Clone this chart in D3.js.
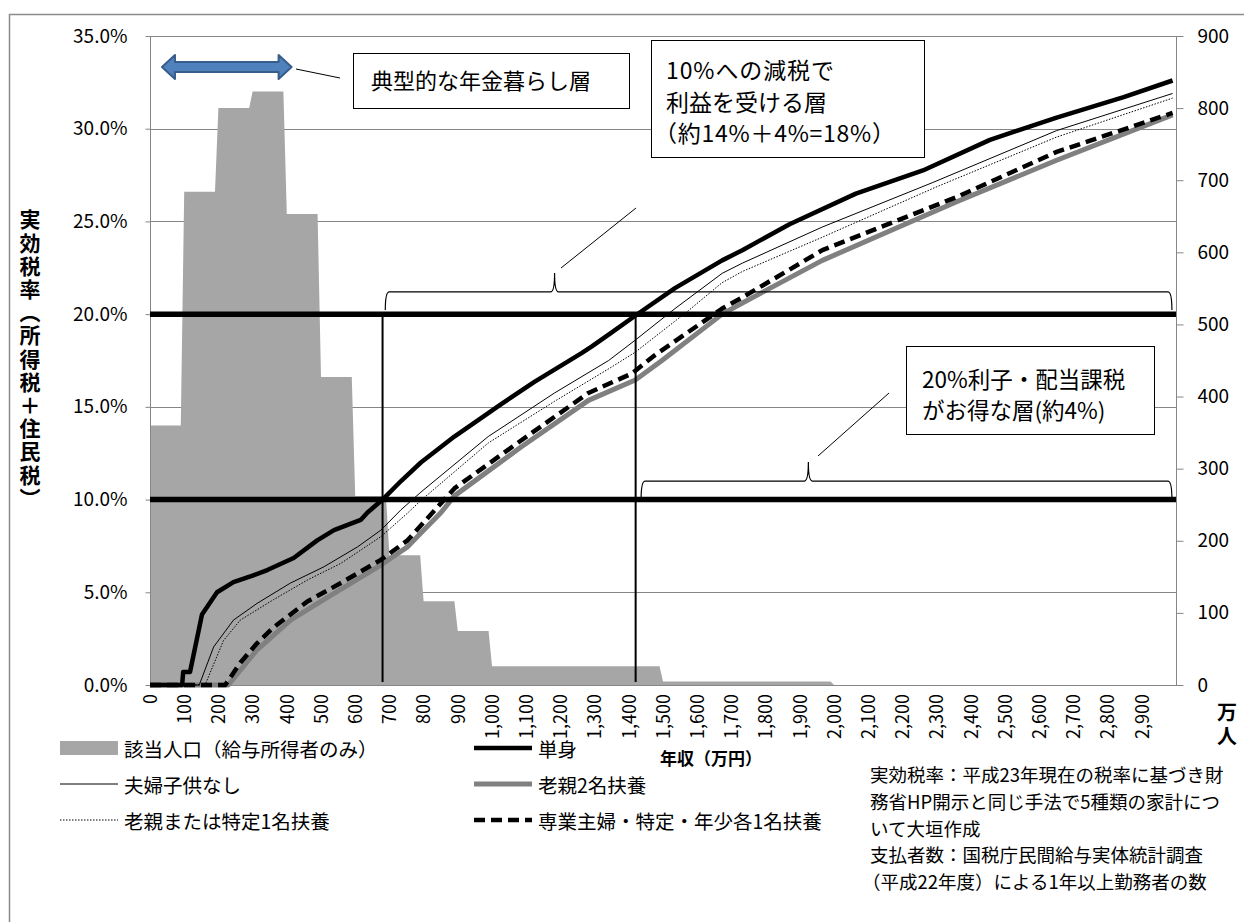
<!DOCTYPE html>
<html lang="ja">
<head>
<meta charset="utf-8">
<script src="https://cdn.jsdelivr.net/npm/d3@7"></script>
<style>
  html, body { margin: 0; padding: 0; background: #fff; }
  svg { display: block; }
  .cjk { font-family: "Noto Sans CJK JP", "Noto Sans", sans-serif; }
  .num { font-family: "Noto Sans CJK JP", "Noto Sans", sans-serif; }
  .vert { writing-mode: vertical-rl; }
</style>
</head>
<body>
<svg id="chart" width="1244" height="922"></svg>
<script>
// ---- data ---------------------------------------------------------------
// income axis (万円)
const incomeTicks = d3.range(0, 3000, 100);
const rateTicks = [0, 5, 10, 15, 20, 25, 30, 35];          // %
const popTicks = d3.range(0, 901, 100);                    // 万人

// wage earners per 10万円 income class (万人), by income band
const popBandStart = [0, 100, 200, 300, 400, 500, 600, 700, 800, 900, 1000, 1500, 2000];
const popBandEnd   = [100, 200, 300, 400, 500, 600, 700, 800, 900, 1000, 1500, 2000, 3000];
const popValues    = [360, 684, 800, 823, 653, 427, 262, 180, 116, 75, 26, 5, 0];

// effective tax rate (%) vs annual income (万円) for five household types
const rateSingle = [[0,0],[94,0],[97,0.7],[117,0.7],[152,3.8],[196,5.0],[244,5.55],[300,5.9],[343,6.2],
  [420,6.85],[489,7.8],[538,8.35],[616,8.9],[636,9.3],[680,10.0],[734,11.0],[792,12.0],[890,13.4],
  [1027,15.15],[1124,16.35],[1262,17.9],[1291,18.25],[1341,18.9],[1429,20.05],[1535,21.4],[1673,22.9],
  [1732,23.45],[1870,24.85],[2064,26.5],[2260,27.75],[2456,29.4],[2651,30.6],[2847,31.7],[2990,32.6]];
const rateCouple = [[0,0],[144,0],[186,2.05],[244,3.5],[313,4.4],[411,5.5],[508,6.37],[607,7.45],
  [675,8.35],[734,9.45],[792,10.4],[989,13.4],[1183,15.75],[1341,17.5],[1419,18.6],[1535,20.3],
  [1673,22.2],[1732,22.75],[1966,24.7],[2289,27.1],[2651,29.9],[2990,31.9]];
const rateOneDependent = [[0,0],[161,0],[215,2.4],[264,3.5],[361,4.6],[460,5.66],[558,6.56],[675,8.0],
  [753,9.27],[792,9.95],[989,13.05],[1183,15.3],[1350,17.15],[1419,17.95],[1575,20.2],[1673,21.7],
  [1732,22.3],[1966,24.15],[2298,26.85],[2651,29.55],[2990,31.65]];
const rateTwoParents = [[0,0],[229,0],[313,1.9],[411,3.5],[508,4.6],[675,6.47],[753,7.45],[792,8.2],
  [851,9.3],[890,10.2],[1086,12.85],[1282,15.35],[1419,16.45],[1497,17.5],[1673,20.0],[1732,20.6],
  [1966,22.9],[2357,26.05],[2651,28.3],[2990,30.75]];
const rateHousewife = [[0,0],[220,0],[264,1.2],[313,2.25],[361,3.1],[460,4.5],[558,5.5],[675,6.75],
  [753,7.8],[792,8.6],[841,9.6],[890,10.6],[1086,13.2],[1282,15.75],[1409,16.8],[1477,17.8],
  [1575,19.05],[1673,20.3],[1732,20.9],[1966,23.45],[2357,26.3],[2651,28.75],[2990,30.85]];

// ---- layout -------------------------------------------------------------
const svg = d3.select("#chart");
const plot = { left: 150, right: 1176, top: 36, bottom: 685 };

const x = d3.scaleLinear().domain([0, 3000]).range([plot.left, plot.right]);
const y = d3.scaleLinear().domain([0, 35]).range([plot.bottom, plot.top]);
const yPop = d3.scaleLinear().domain([0, 900]).range([plot.bottom, plot.top]);

const GRID = "#868686";

// chart frame
svg.append("rect").attr("x", 9.5).attr("y", 14.5).attr("width", 1260).attr("height", 940)
  .attr("fill", "#fff").attr("stroke", "#8c8c8c").attr("stroke-width", 1.5);

// horizontal gridlines
svg.append("g").selectAll("line").data(rateTicks.slice(1)).join("line")
  .attr("x1", plot.left).attr("x2", plot.right)
  .attr("y1", d => Math.round(y(d)) + 0.5).attr("y2", d => Math.round(y(d)) + 0.5)
  .attr("stroke", GRID).attr("stroke-width", 1);

// population area (secondary axis)
const popPts = [];
popBandStart.forEach((s, i) => {
  popPts.push([s, popValues[i]]);
  popPts.push([popBandEnd[i] - 10, popValues[i]]);
});
svg.append("path").datum(popPts)
  .attr("fill", "#a6a6a6")
  .attr("d", d3.area().x(d => x(d[0])).y0(yPop(0)).y1(d => yPop(d[1])));

// plot border / axis lines
svg.append("rect").attr("x", plot.left + 0.5).attr("y", plot.top + 0.5)
  .attr("width", plot.right - plot.left).attr("height", plot.bottom - plot.top)
  .attr("fill", "none").attr("stroke", GRID).attr("stroke-width", 1);

// left axis
const leftAxis = svg.append("g").attr("transform", `translate(${plot.left + 0.5},0)`)
  .call(d3.axisLeft(y).tickValues(rateTicks).tickSize(5).tickFormat(d => d.toFixed(1) + "%"));
leftAxis.select(".domain").remove();
leftAxis.selectAll(".tick line").attr("stroke", GRID);
leftAxis.selectAll(".tick text").attr("class", "num").attr("x", -23)
  .attr("font-size", 19).attr("fill", "#000");

// right axis
const rightAxis = svg.append("g").attr("transform", `translate(${plot.right + 0.5},0)`)
  .call(d3.axisRight(yPop).tickValues(popTicks).tickSize(7));
rightAxis.select(".domain").remove();
rightAxis.selectAll(".tick line").attr("stroke", GRID);
rightAxis.selectAll(".tick text").attr("class", "num").attr("x", 21)
  .attr("font-size", 19).attr("fill", "#000");

// bottom category labels (rotated)
const bottomAxis = svg.append("g").attr("transform", `translate(0,${plot.bottom})`)
  .call(d3.axisBottom(x).tickValues(incomeTicks).tickSize(0).tickFormat(d3.format(",")));
bottomAxis.select(".domain").remove();
bottomAxis.selectAll(".tick text")
  .attr("class", "num").attr("font-size", 18).attr("fill", "#000")
  .attr("transform", "rotate(-90)")
  .attr("x", -9).attr("y", 0).attr("dy", "0.35em")
  .attr("text-anchor", "end");

// tax-rate lines
const line = d3.line().x(d => x(d[0])).y(d => y(d[1]));
const series = [
  { data: rateTwoParents,   stroke: "#808080", width: 5,   dash: null },
  { data: rateHousewife,    stroke: "#000",    width: 4.5, dash: "11,6" },
  { data: rateOneDependent, stroke: "#000",    width: 1,   dash: "1.5,1.5" },
  { data: rateCouple,       stroke: "#000",    width: 1,   dash: null },
  { data: rateSingle,       stroke: "#000",    width: 4.5, dash: null },
];
svg.append("g").selectAll("path").data(series).join("path")
  .attr("d", d => line(d.data))
  .attr("fill", "none")
  .attr("stroke", d => d.stroke)
  .attr("stroke-width", d => d.width)
  .attr("stroke-dasharray", d => d.dash)
  .attr("stroke-linejoin", "round");

// 10% / 20% reference lines
svg.append("g").selectAll("line").data([10, 20]).join("line")
  .attr("x1", plot.left).attr("x2", plot.right)
  .attr("y1", d => y(d)).attr("y2", d => y(d))
  .attr("stroke", "#000").attr("stroke-width", 5.5);

// incomes where the single-person rate reaches 10% and 20%
const crossIncome = [680, 1420];
svg.append("g").selectAll("line").data(crossIncome).join("line")
  .attr("x1", d => x(d)).attr("x2", d => x(d))
  .attr("y1", y(20)).attr("y2", y(0) - 3)
  .attr("stroke", "#000").attr("stroke-width", 2);

// braces
function brace(x0, x1, xm, yb, drop, rise) {
  const r = 4;
  return `M${x0},${yb + drop} Q${x0},${yb} ${x0 + r},${yb} L${xm - r},${yb} ` +
         `Q${xm},${yb} ${xm},${yb - rise} Q${xm},${yb} ${xm + r},${yb} ` +
         `L${x1 - r},${yb} Q${x1},${yb} ${x1},${yb + drop}`;
}
const braceG = svg.append("g").attr("fill", "none").attr("stroke", "#000").attr("stroke-width", 1.2);
braceG.append("path").attr("d", brace(x(688), x(2988), x(1183), y(21.2), 18, 19));
braceG.append("path").attr("d", brace(x(1436), x(2988), x(1925), y(11.0), 18, 19));

// callout leader lines
const leaders = svg.append("g").attr("stroke", "#000").attr("stroke-width", 1);
leaders.append("line").attr("x1", 296).attr("y1", 69).attr("x2", 340).attr("y2", 78);
leaders.append("line").attr("x1", 561).attr("y1", 268).attr("x2", 636).attr("y2", 208);
leaders.append("line").attr("x1", 818).attr("y1", 456).attr("x2", 889).attr("y2", 393);

// double arrow marking the pension-income range
const ax0 = x(35), ax1 = x(414), ay = 67;
const hl = 13, sh = 5, hh = 12;
svg.append("path")
  .attr("d", `M${ax0},${ay} L${ax0 + hl},${ay - hh} L${ax0 + hl},${ay - sh} L${ax1 - hl},${ay - sh} ` +
             `L${ax1 - hl},${ay - hh} L${ax1},${ay} L${ax1 - hl},${ay + hh} L${ax1 - hl},${ay + sh} ` +
             `L${ax0 + hl},${ay + sh} L${ax0 + hl},${ay + hh} Z`)
  .attr("fill", "#4f81bd").attr("stroke", "#385d8a").attr("stroke-width", 2)
  .attr("stroke-linejoin", "round");

// annotation boxes (one text element per box, one tspan per line)
function textBox(bx, by, bw, bh, lines, opts) {
  const g = svg.append("g");
  g.append("rect").attr("x", bx + 0.5).attr("y", by + 0.5).attr("width", bw).attr("height", bh)
    .attr("fill", "#fff").attr("stroke", "#000").attr("stroke-width", 1);
  const t = g.append("text").attr("class", "cjk").attr("font-size", opts.size).attr("fill", "#000");
  lines.forEach((s, i) => {
    const ts = t.append("tspan").attr("x", opts.x + (opts.dx ? opts.dx[i] : 0))
      .attr("y", opts.y + i * opts.lh).text(s);
    if (opts.len && opts.len[i]) ts.attr("textLength", opts.len[i]).attr("lengthAdjust", "spacing");
  });
}
textBox(353, 53, 276, 55, ["典型的な年金暮らし層"], { x: 371, y: 89, lh: 0, size: 22 });
textBox(651, 40, 273, 117, ["10%への減税で", "利益を受ける層", "（約14%＋4%=18%）"],
  { x: 666, y: 79, lh: 31.5, size: 23, dx: [0, 0, -12], len: [168, 0, 241] });
textBox(906, 346, 248, 88, ["20%利子・配当課税", "がお得な層(約4%)"],
  { x: 922, y: 388, lh: 31, size: 22.5 });

// axis titles
svg.append("text").attr("class", "cjk vert").attr("x", 30).attr("y", 209)
  .attr("font-size", 21).attr("font-weight", 700).attr("letter-spacing", 2.2)
  .text("実効税率（所得税＋住民税）");

svg.append("text").attr("class", "cjk").attr("x", 711).attr("y", 757)
  .attr("text-anchor", "middle").attr("dominant-baseline", "central")
  .attr("font-size", 17).attr("font-weight", 700).text("年収（万円）");

svg.append("text").attr("class", "cjk vert").attr("x", 1227).attr("y", 702)
  .attr("font-size", 20).attr("font-weight", 700).attr("letter-spacing", 4).text("万人");

// legend
const legendItems = [
  { label: "該当人口（給与所得者のみ）", kind: "area", col: 0, row: 0 },
  { label: "単身", stroke: "#000", width: 4.5, dash: null, col: 1, row: 0 },
  { label: "夫婦子供なし", stroke: "#000", width: 1, dash: null, col: 0, row: 1 },
  { label: "老親2名扶養", stroke: "#808080", width: 5, dash: null, col: 1, row: 1 },
  { label: "老親または特定1名扶養", stroke: "#000", width: 1, dash: "1.5,1.5", col: 0, row: 2 },
  { label: "専業主婦・特定・年少各1名扶養", stroke: "#000", width: 4.5, dash: "11,6", col: 1, row: 2 },
];
const legCols = [60, 474], legRows = [748, 784, 820];
const leg = svg.append("g").selectAll("g").data(legendItems).join("g")
  .attr("transform", d => `translate(${legCols[d.col]},${legRows[d.row]})`);
leg.filter(d => d.kind === "area").append("rect")
  .attr("x", 0).attr("y", -7).attr("width", 58).attr("height", 14).attr("fill", "#a6a6a6");
leg.filter(d => d.kind !== "area").append("line")
  .attr("x1", 0).attr("x2", 58).attr("y1", 0).attr("y2", 0)
  .attr("stroke", d => d.stroke).attr("stroke-width", d => d.width).attr("stroke-dasharray", d => d.dash);
leg.append("text").attr("class", "cjk").attr("x", 64).attr("y", 0)
  .attr("dominant-baseline", "central").attr("font-size", 19.5).attr("fill", "#000")
  .text(d => d.label);

// source notes
const notes = [
  "実効税率：平成23年現在の税率に基づき財",
  "務省HP開示と同じ手法で5種類の家計につ",
  "いて大垣作成",
  "支払者数：国税庁民間給与実体統計調査",
  "（平成22年度）による1年以上勤務者の数",
];
const noteDx = [0, 0, 0, 0, -8];
const notesText = svg.append("text").attr("class", "cjk").attr("font-size", 18.5).attr("fill", "#000");
notes.forEach((s, i) => {
  notesText.append("tspan").attr("x", 870 + noteDx[i]).attr("y", 782 + i * 26.8).text(s);
});
</script>
</body>
</html>
